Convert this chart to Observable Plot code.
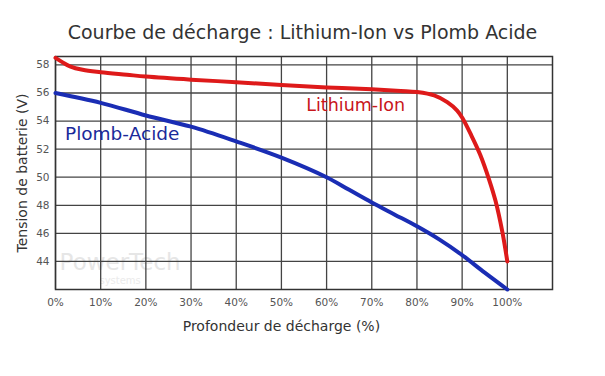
<!DOCTYPE html>
<html>
<head>
<meta charset="utf-8">
<script src="https://cdn.jsdelivr.net/npm/d3@7"></script>
<script src="https://cdn.jsdelivr.net/npm/@observablehq/plot@0.6"></script>
<style>
  body { margin: 0; background: #fff; width: 605px; height: 376px; overflow: hidden; }
  #title { height: 46px; line-height: 1; padding-top: 23px; box-sizing: border-box; text-align: center;
           font-family: "DejaVu Sans", sans-serif; font-size: 19px; color: #333; letter-spacing: 0px; }
  #chart svg { display: block; }
</style>
</head>
<body>
<div id="title"></div>
<div id="chart"></div>
<script>
// Depth of discharge (%) and voltage (V)
const liionDepth = [0, 1.5, 3.2, 6, 10, 15.8, 20, 30, 40, 50, 60, 70, 76.4, 80, 83.8, 86.7, 88.9, 90, 92, 94, 96, 97.4, 98.9, 100];
const liionVolt  = [58.5, 58.2, 57.9, 57.65, 57.48, 57.3, 57.17, 56.95, 56.77, 56.57, 56.4, 56.26, 56.15, 56.07, 55.83, 55.35, 54.75, 54.25, 53.0, 51.6, 49.8, 48.3, 46.1, 44.0];
const leadDepth  = [0, 10, 20, 30, 40, 50, 60, 65, 70, 75, 80, 85, 90, 95, 100];
const leadVolt   = [56.0, 55.3, 54.4, 53.6, 52.55, 51.4, 50.0, 49.1, 48.2, 47.35, 46.5, 45.55, 44.45, 43.2, 42.0];
const xTicks = [0, 10, 20, 30, 40, 50, 60, 70, 80, 90, 100];
const yTicks = [44, 46, 48, 50, 52, 54, 56, 58];
const seriesNames = ["Lithium-Ion", "Plomb-Acide"];
const titleText = "Courbe de décharge : Lithium-Ion vs Plomb Acide";
const xLabel = "Profondeur de décharge (%)";
const yLabel = "Tension de batterie (V)";
const watermark = ["PowerTech", "systems"];

document.getElementById("title").textContent = titleText;

const liion = liionDepth.map((d, i) => ({x: d, y: liionVolt[i]}));
const lead = leadDepth.map((d, i) => ({x: d, y: leadVolt[i]}));

const font = "DejaVu Sans, sans-serif";

const plot = Plot.plot({
  width: 605,
  height: 330,
  marginTop: 10,
  marginBottom: 87,
  marginLeft: 55,
  marginRight: 53,
  style: {fontFamily: font, background: "#fff"},
  x: {domain: [0, 110], ticks: xTicks},
  y: {domain: [42, 58.6], ticks: yTicks},
  marks: [
    // watermark
    Plot.text([watermark[0]], {x: 14.3, y: 43.9, text: d => d, fill: "#e6e6e6", fontSize: 23, fontFamily: font}),
    Plot.text([watermark[1]], {x: 14.3, y: 42.6, text: d => d, fill: "#ebebeb", fontSize: 10, fontFamily: font}),
    Plot.gridX(xTicks, {stroke: "#444", strokeOpacity: 1, strokeWidth: 1.3}),
    Plot.gridY(yTicks, {stroke: "#444", strokeOpacity: 1, strokeWidth: 1.3}),
    Plot.frame({stroke: "#333", strokeWidth: 1.5}),
    Plot.axisX(xTicks, {tickSize: 0, tickPadding: 9, tickFormat: d => d + "%", fontSize: 10.5, fill: "#555", label: null}),
    Plot.axisY(yTicks, {tickSize: 0, tickPadding: 6, fontSize: 10.5, fill: "#555", label: null}),
    Plot.line(lead, {x: "x", y: "y", stroke: "#1a2db4", strokeWidth: 4, curve: "catmull-rom"}),
    Plot.line(liion, {x: "x", y: "y", stroke: "#de1a1a", strokeWidth: 4, curve: "catmull-rom"}),
    Plot.text([seriesNames[0]], {x: 55.5, y: 55.15, text: d => d, textAnchor: "start", fill: "#c8161b", fontSize: 17.5, fontFamily: font}),
    Plot.text([seriesNames[1]], {x: 2.1, y: 53.1, text: d => d, textAnchor: "start", fill: "#1a2a9a", fontSize: 18.5, fontFamily: font}),
    Plot.text([xLabel], {x: 50, frameAnchor: "bottom", dy: 41, text: d => d, fill: "#333", fontSize: 14, fontFamily: font}),
    Plot.text([yLabel], {frameAnchor: "left", dx: -33, rotate: -90, textAnchor: "middle", text: d => d, fill: "#333", fontSize: 14, fontFamily: font})
  ]
});
document.getElementById("chart").appendChild(plot);
</script>
</body>
</html>
